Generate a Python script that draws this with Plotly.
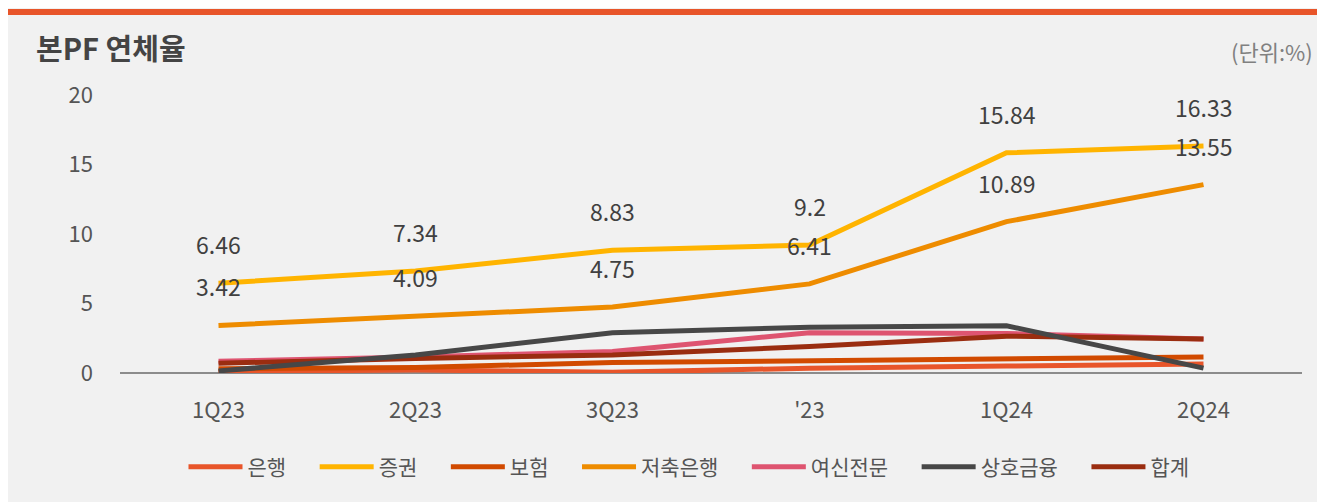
import plotly.graph_objects as go

categories = ["1Q23", "2Q23", "3Q23", "'23", "1Q24", "2Q24"]
series_names = ["은행", "증권", "보험", "저축은행", "여신전문", "상호금융", "합계"]
bank = [0.1, 0.22, 0.05, 0.35, 0.5, 0.65]
securities = [6.46, 7.34, 8.83, 9.2, 15.84, 16.33]
insurance = [0.3, 0.4, 0.75, 0.9, 1.0, 1.15]
savings_bank = [3.42, 4.09, 4.75, 6.41, 10.89, 13.55]
card_capital = [0.85, 1.15, 1.55, 2.9, 2.85, 2.45]
mutual_finance = [0.15, 1.3, 2.9, 3.3, 3.4, 0.35]
total = [0.7, 1.05, 1.3, 1.9, 2.65, 2.45]
y_ticks = [0, 5, 10, 15, 20]

colors = {
    "은행": "#E8552A",
    "증권": "#FFB400",
    "보험": "#D14A00",
    "저축은행": "#EE8C00",
    "여신전문": "#DE5470",
    "상호금융": "#474747",
    "합계": "#9A2D10",
}
values = {
    "은행": bank, "증권": securities, "보험": insurance, "저축은행": savings_bank,
    "여신전문": card_capital, "상호금융": mutual_finance, "합계": total,
}
draw_order = ["은행", "증권", "보험", "저축은행", "여신전문", "합계", "상호금융"]

FONT = "Noto Sans CJK KR"
PAD = "\u00a0" * 5
fig = go.Figure()
for name in draw_order:
    fig.add_trace(go.Scatter(
        x=categories, y=values[name], name=name + PAD, mode="lines",
        line=dict(color=colors[name], width=5),
        legendrank=series_names.index(name) + 1,
    ))

annotations = []
for series in (securities, savings_bank):
    for c, v in zip(categories, series):
        annotations.append(dict(
            x=c, y=v, xref="x", yref="y", text=f"{v:g}", showarrow=False,
            yshift=39, font=dict(family=FONT, size=23, color="#404040"),
        ))

# the page body adds an 8px offset; figure coordinates = screen - 8
OFF = 8
W, H = 1325 - OFF, 502 - OFF
ml, mr, mt, mb = 112, 23, 87, 129
pw, ph = W - ml - mr, H - mt - mb

def px(x):
    return (x - OFF - ml) / pw

def py(y):
    return (H - mb - (y - OFF)) / ph

annotations.append(dict(
    x=px(34), y=py(47), xref="paper", yref="paper", text="<b>본PF 연체율</b>",
    showarrow=False, xanchor="left", yanchor="middle",
    font=dict(family=FONT, size=29, color="#444444"),
))
annotations.append(dict(
    x=px(1315), y=py(51), xref="paper", yref="paper", text="(단위:%)",
    showarrow=False, xanchor="right", yanchor="middle",
    font=dict(family=FONT, size=22, color="#808080"),
))

shapes = [
    dict(type="rect", xref="paper", yref="paper", x0=px(OFF - 2), x1=px(1330), y0=py(9), y1=py(15),
         fillcolor="#E8552A", line_width=0, layer="below"),
]

fig.update_layout(
    width=W, height=H,
    margin=dict(l=ml, r=mr, t=mt, b=mb),
    paper_bgcolor="#F1F1F1", plot_bgcolor="#F1F1F1",
    font=dict(family=FONT, color="#555555"),
    showlegend=True,
    legend=dict(orientation="h", x=px(701), xanchor="center", y=py(467), yanchor="middle",
                font=dict(family=FONT, size=21, color="#555555"),
                bgcolor="rgba(0,0,0,0)", itemwidth=54, tracegroupgap=0),
    annotations=annotations,
    shapes=shapes,
    xaxis=dict(showgrid=False, zeroline=False, showline=False, ticks="",
               tickfont=dict(family=FONT, size=22, color="#555555"),
               ticklabelstandoff=22, range=[-0.5, 5.5]),
    yaxis=dict(range=[0, 20], tickvals=y_ticks, showgrid=False, zeroline=True,
               zerolinecolor="#8C8C8C", zerolinewidth=2, showline=False, ticks="",
               tickfont=dict(family=FONT, size=22, color="#555555"),
               ticklabelstandoff=26),
)

fig.write_html("out.html")
